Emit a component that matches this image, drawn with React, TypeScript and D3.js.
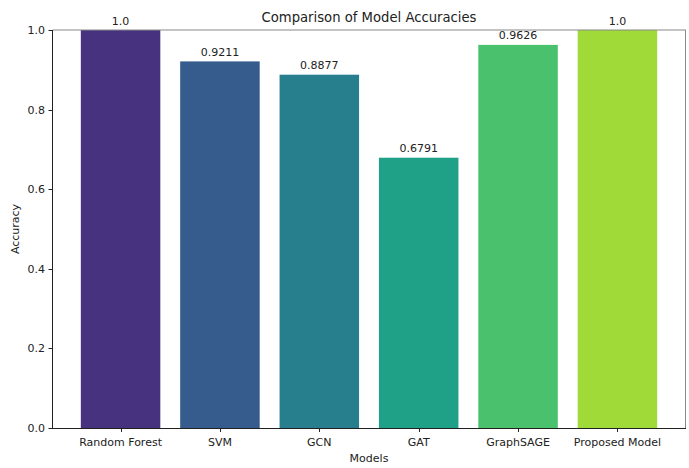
import React from "react";
import * as d3 from "d3";

const models = ["Random Forest", "SVM", "GCN", "GAT", "GraphSAGE", "Proposed Model"];
const accuracies = [1.0, 0.9211, 0.8877, 0.6791, 0.9626, 1.0];
const valueLabels = ["1.0", "0.9211", "0.8877", "0.6791", "0.9626", "1.0"];
const yTicks = [0.0, 0.2, 0.4, 0.6, 0.8, 1.0];
const barColors = ["#46327e", "#365c8d", "#277f8e", "#1fa187", "#4ac16d", "#a0da39"];

const W = 689;
const H = 468;
const left = 52;
const right = 686;
const top = 30;
const bottom = 428;
const font = "'DejaVu Sans', sans-serif";

export default function App() {
  // matplotlib-like band: bars of width 0.8 at integer positions, 5% margins
  const n = models.length;
  const lo = -0.4 - 0.05 * (n - 1 + 0.8);
  const hi = n - 1 + 0.4 + 0.05 * (n - 1 + 0.8);
  const x = d3.scaleLinear().domain([lo, hi]).range([left, right]);
  const y = d3.scaleLinear().domain([0, 1]).range([bottom, top]);
  const bw = x(0.8) - x(0);

  return (
    <svg width={W} height={H} style={{ position: "absolute", left: 0, top: 0, background: "#fff" }} fontFamily={font}>
      {accuracies.map((v, i) => (
        <rect key={models[i]} x={x(i) - bw / 2} y={y(v)} width={bw} height={y(0) - y(v)} fill={barColors[i]} />
      ))}
      {accuracies.map((v, i) => (
        <text key={"l" + i} x={x(i)} y={y(v) - 5.5} textAnchor="middle" fontSize={11} fill="#222">
          {valueLabels[i]}
        </text>
      ))}
      {/* spines */}
      <line x1={left + 0.5} x2={right} y1={top} y2={top} stroke="#888" strokeWidth={1} />
      <line x1={right - 0.5} x2={right - 0.5} y1={top} y2={bottom} stroke="#888" strokeWidth={1} />
      <line x1={left + 0.5} x2={left + 0.5} y1={top} y2={bottom + 0.5} stroke="#222" strokeWidth={1} />
      <line x1={left} x2={right} y1={bottom + 0.5} y2={bottom + 0.5} stroke="#222" strokeWidth={1} />
      {/* y ticks */}
      {yTicks.map((t) => (
        <g key={"y" + t}>
          <line x1={left - 3.5} x2={left} y1={Math.round(y(t)) + 0.5} y2={Math.round(y(t)) + 0.5} stroke="#222" />
          <text x={left - 7} y={y(t) + 4} textAnchor="end" fontSize={11} fill="#222">
            {t.toFixed(1)}
          </text>
        </g>
      ))}
      {/* x ticks */}
      {models.map((m, i) => (
        <g key={"x" + m}>
          <line x1={Math.round(x(i)) + 0.5} x2={Math.round(x(i)) + 0.5} y1={bottom} y2={bottom + 4} stroke="#222" />
          <text x={x(i)} y={445.5} textAnchor="middle" fontSize={11} fill="#222">
            {m}
          </text>
        </g>
      ))}
      <text x={(left + right) / 2} y={462} textAnchor="middle" fontSize={11} fill="#222">
        Models
      </text>
      <text transform={`translate(19, ${(top + bottom) / 2}) rotate(-90)`} textAnchor="middle" fontSize={11} fill="#222">
        Accuracy
      </text>
      <text x={(left + right) / 2} y={22} textAnchor="middle" fontSize={13.2} fill="#222">
        Comparison of Model Accuracies
      </text>
    </svg>
  );
}
